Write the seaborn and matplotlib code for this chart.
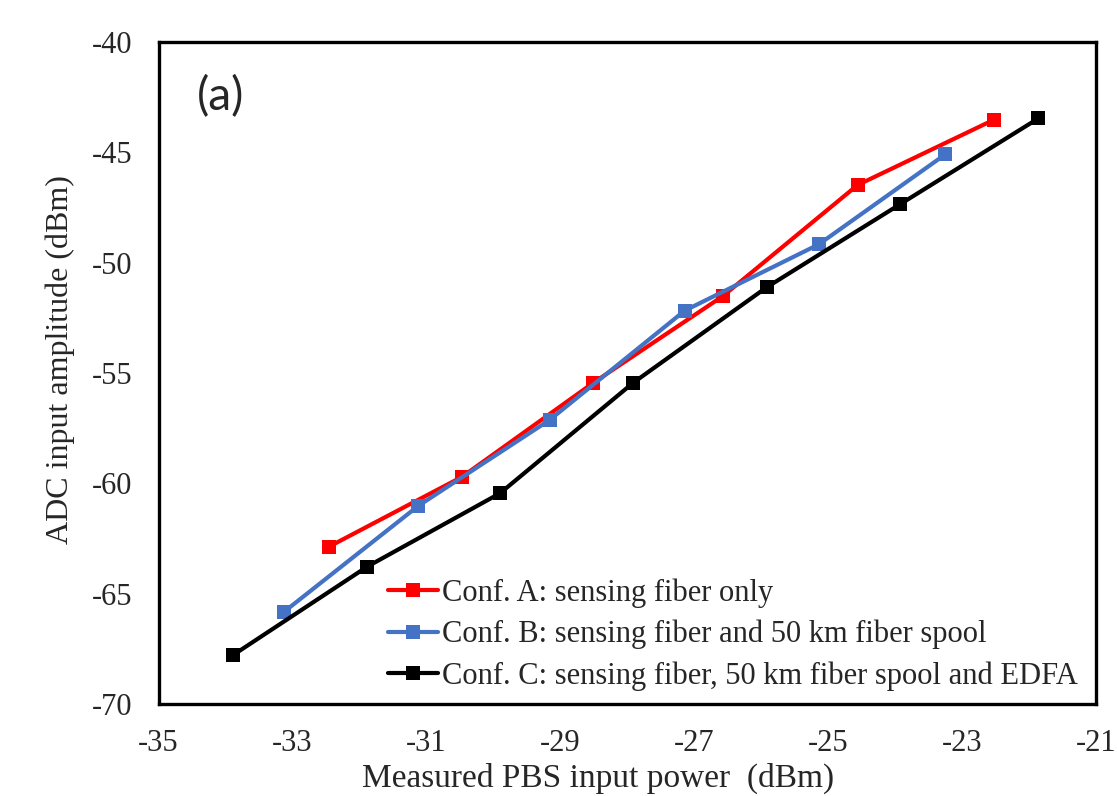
import numpy as np
import pandas as pd
import seaborn as sns
import matplotlib.pyplot as plt

# Values.
labels = ['Conf. A: sensing fiber only',
          'Conf. B: sensing fiber and 50 km fiber spool',
          'Conf. C: sensing fiber, 50 km fiber spool and EDFA']
colors = ['#ff0000', '#4472c4', '#000000']

power_a = [-32.46, -30.47, -28.51, -26.57, -24.56, -22.53]
amp_a = [-62.88, -59.71, -55.45, -51.51, -46.48, -43.53]

power_b = [-33.12, -31.12, -29.16, -27.14, -25.14, -23.25]
amp_b = [-65.81, -61.02, -57.13, -52.17, -49.17, -45.09]

power_c = [-33.89, -31.88, -29.90, -27.91, -25.92, -23.92, -21.86]
amp_c = [-67.79, -63.77, -60.45, -55.44, -51.12, -47.34, -43.46]

x_ticks = [-35, -33, -31, -29, -27, -25, -23, -21]
y_ticks = [-70, -65, -60, -55, -50, -45, -40]

frames = []
for lab, xs, ys in zip(labels, [power_a, power_b, power_c], [amp_a, amp_b, amp_c]):
    frames.append(pd.DataFrame({'power': xs, 'amp': ys, 'conf': lab}))
df = pd.concat(frames, ignore_index=True)

sns.set_style("white")
plt.rcParams['font.family'] = ['Liberation Serif', 'DejaVu Serif']
plt.rcParams['axes.unicode_minus'] = False

fig = plt.figure(figsize=(11.17, 7.96), dpi=100)
ax = fig.add_axes([0.1419, 0.1156, 0.8393, 0.8316])

sns.lineplot(data=df, x='power', y='amp', hue='conf', hue_order=labels,
             palette=colors, marker='s', markersize=9.5, markeredgewidth=0,
             linewidth=3, sort=False, estimator=None, ax=ax)

ax.set_xlim(-35, -21)
ax.set_ylim(-70, -40)
ax.set_xticks(x_ticks)
ax.set_yticks(y_ticks)
ax.tick_params(axis='x', length=0, labelsize=22, pad=18)
ax.tick_params(axis='y', length=0, labelsize=22, pad=19)
for s in ax.spines.values():
    s.set_linewidth(2.4)
    s.set_color('black')

ax.set_xlabel('Measured PBS input power  (dBm)', fontsize=24)
ax.set_ylabel('ADC input amplitude (dBm)', fontsize=23)
ax.xaxis.set_label_coords(0.469, -0.113, transform=ax.transAxes)
ax.yaxis.set_label_coords(-0.105, 0.52, transform=ax.transAxes)
ax.xaxis.label.set_va('center')
ax.yaxis.label.set_va('center')

ax.text(0.041, 0.917, '(a)', transform=ax.transAxes, fontsize=33,
        family=['Lato', 'DejaVu Sans'], va='center', ha='left')

leg = ax.legend(loc='lower right', bbox_to_anchor=(1.0, -0.008), frameon=False,
                fontsize=22, handlelength=1.65, handletextpad=0.12,
                labelspacing=0.4, borderaxespad=0.2)

fig.savefig('out.png', dpi=100)
